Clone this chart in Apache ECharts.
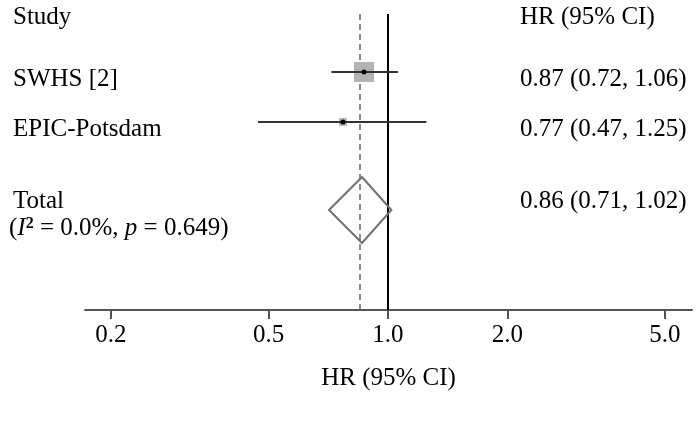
<!DOCTYPE html>
<html><head><meta charset="utf-8">
<script src="https://cdn.jsdelivr.net/npm/echarts@6/dist/echarts.min.js"></script>
<style>html,body{margin:0;padding:0;background:#fff}#c{width:698px;height:422px}</style>
</head><body><div id="c"></div>
<script>
// ---- data ----
const studies = ['SWHS [2]', 'EPIC-Potsdam'];
const hr = [0.87, 0.77];
const ciLow = [0.72, 0.47];
const ciHigh = [1.06, 1.25];
const weights = [86.5, 13.5];
const totalLabel = 'Total';
const totalHr = [0.86];
const totalLow = [0.71];
const totalHigh = [1.02];
const hetI2 = '0.0%';
const hetP = '0.649';
const tickValues = [0.2, 0.5, 1.0, 2.0, 5.0];
const tickLabels = ['0.2', '0.5', '1.0', '2.0', '5.0'];
const axisTitle = 'HR (95% CI)';
const colHeaders = ['Study', 'HR (95% CI)'];

// ---- layout / style ----
const FONT = '"Liberation Serif","Times New Roman",serif';
const FS = 25;
const LEFT_X = 13, RIGHT_X = 520;
const rowPos = [0, 1];
const totalRow = 2.76;
const lg = v => Math.log10(v);
const fmt = (a, b, c) => a.toFixed(2) + ' (' + b.toFixed(2) + ', ' + c.toFixed(2) + ')';

const chart = echarts.init(document.getElementById('c'), null, {renderer: 'canvas'});

const studyData = studies.map((s, i) => [lg(hr[i]), lg(ciLow[i]), lg(ciHigh[i]), rowPos[i], weights[i]]);
const totalData = [[lg(totalHr[0]), lg(totalLow[0]), lg(totalHigh[0]), totalRow]];

function txt(x, y, text, extra) {
  return {type: 'text', x: x, y: y, style: Object.assign({text: text, fontSize: FS, fontFamily: FONT, fill: '#000', align: 'left', verticalAlign: 'middle'}, extra || {})};
}

chart.setOption({
  animation: false,
  backgroundColor: '#fff',
  grid: {left: 85, right: 6, top: 14, bottom: 112},
  xAxis: {
    type: 'value', min: lg(0.172), max: lg(5.85),
    splitLine: {show: false},
    axisLine: {show: true, onZero: false, lineStyle: {color: '#555', width: 2}},
    axisTick: {show: true, customValues: tickValues.map(lg), length: 9, lineStyle: {color: '#555', width: 2}},
    axisLabel: {
      customValues: tickValues.map(lg), margin: 13,
      fontSize: FS, fontFamily: FONT, color: '#000',
      formatter: v => { const k = tickValues.findIndex(t => Math.abs(lg(t) - v) < 1e-6); return k >= 0 ? tickLabels[k] : ''; }
    },
    name: axisTitle, nameLocation: 'middle', nameGap: 56,
    nameTextStyle: {fontSize: FS, fontFamily: FONT, color: '#000'}
  },
  yAxis: {type: 'value', inverse: true, min: -1.16, max: 4.76, show: false},
  graphic: [
    txt(LEFT_X, 17, colHeaders[0]),
    txt(RIGHT_X, 17, colHeaders[1])
  ],
  series: [
    {
      type: 'custom', z: 10, clip: false,
      data: studyData,
      encode: {x: [0, 1, 2], y: 3},
      renderItem: function (params, api) {
        const i = params.dataIndex;
        const c = api.coord([api.value(0), api.value(3)]);
        const lo = api.coord([api.value(1), api.value(3)]);
        const hi = api.coord([api.value(2), api.value(3)]);
        const side = 2.15 * Math.sqrt(api.value(4));
        return {
          type: 'group',
          children: [
            {type: 'rect', shape: {x: c[0] - side / 2, y: c[1] - side / 2, width: side, height: side}, style: {fill: '#b3b3b3'}},
            {type: 'line', shape: {x1: lo[0], y1: c[1], x2: hi[0], y2: c[1]}, style: {stroke: '#333', lineWidth: 2.2}},
            {type: 'circle', shape: {cx: c[0], cy: c[1], r: 2.5}, style: {fill: '#000'}},
            txt(LEFT_X, c[1] + 7, studies[i]),
            txt(RIGHT_X, c[1] + 7, fmt(hr[i], ciLow[i], ciHigh[i]))
          ]
        };
      },
      markLine: {
        silent: true, symbol: 'none', label: {show: false}, z: 3,
        data: [
          {xAxis: 0, lineStyle: {color: '#000', width: 2, type: 'solid'}},
          {xAxis: lg(totalHr[0]), lineStyle: {color: '#666', width: 1.5, type: [6, 4]}}
        ]
      }
    },
    {
      type: 'custom', z: 10, clip: false,
      data: totalData,
      encode: {x: [0, 1, 2], y: 3},
      renderItem: function (params, api) {
        const c = api.coord([api.value(0), api.value(3)]);
        const lo = api.coord([api.value(1), api.value(3)]);
        const hi = api.coord([api.value(2), api.value(3)]);
        const h = api.size([0, 0.66])[1];
        return {
          type: 'group',
          children: [
            {type: 'polygon', shape: {points: [[lo[0], c[1]], [c[0], c[1] - h], [hi[0], c[1]], [c[0], c[1] + h]]}, style: {fill: 'none', stroke: '#707070', lineWidth: 2}},
            txt(LEFT_X, c[1] - 9, totalLabel),
            txt(RIGHT_X, c[1] - 9, fmt(totalHr[0], totalLow[0], totalHigh[0])),
            {
              type: 'text', x: LEFT_X - 4, y: c[1] + 18,
              style: {
                text: '({i|I}{s|2} = ' + hetI2 + ', {i|p} = ' + hetP + ')',
                fontSize: FS, fontFamily: FONT, fill: '#000', align: 'left', verticalAlign: 'middle',
                rich: {
                  i: {fontSize: FS, fontFamily: FONT, fontStyle: 'italic', fill: '#000'},
                  s: {fontSize: 16, fontFamily: FONT, fontWeight: 'bold', verticalAlign: 'top', fill: '#000'}
                }
              }
            }
          ]
        };
      }
    }
  ]
});
</script>
</body></html>
